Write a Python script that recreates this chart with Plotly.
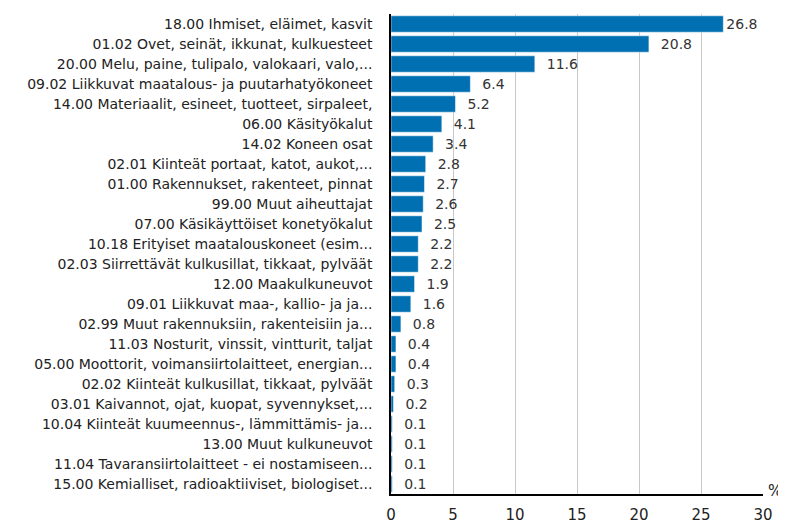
import plotly.graph_objects as go

categories = [
    "18.00 Ihmiset, eläimet, kasvit",
    "01.02 Ovet, seinät, ikkunat, kulkuesteet",
    "20.00 Melu, paine, tulipalo, valokaari, valo,...",
    "09.02 Liikkuvat maatalous- ja puutarhatyökoneet",
    "14.00 Materiaalit, esineet, tuotteet, sirpaleet,",
    "06.00 Käsityökalut",
    "14.02 Koneen osat",
    "02.01 Kiinteät portaat, katot, aukot,...",
    "01.00 Rakennukset, rakenteet, pinnat",
    "99.00 Muut aiheuttajat",
    "07.00 Käsikäyttöiset konetyökalut",
    "10.18 Erityiset maatalouskoneet (esim...",
    "02.03 Siirrettävät kulkusillat, tikkaat, pylväät",
    "12.00 Maakulkuneuvot",
    "09.01 Liikkuvat maa-, kallio- ja ja...",
    "02.99 Muut rakennuksiin, rakenteisiin ja...",
    "11.03 Nosturit, vinssit, vintturit, taljat",
    "05.00 Moottorit, voimansiirtolaitteet, energian...",
    "02.02 Kiinteät kulkusillat, tikkaat, pylväät",
    "03.01 Kaivannot, ojat, kuopat, syvennykset,...",
    "10.04 Kiinteät kuumeennus-, lämmittämis- ja...",
    "13.00 Muut kulkuneuvot",
    "11.04 Tavaransiirtolaitteet - ei nostamiseen...",
    "15.00 Kemialliset, radioaktiiviset, biologiset...",
]
values = [26.8, 20.8, 11.6, 6.4, 5.2, 4.1, 3.4, 2.8, 2.7, 2.6, 2.5, 2.2, 2.2,
          1.9, 1.6, 0.8, 0.4, 0.4, 0.3, 0.2, 0.1, 0.1, 0.1, 0.1]
x_ticks = [0, 5, 10, 15, 20, 25, 30]
unit_label = "%"

FONT = "DejaVu Sans, Verdana, sans-serif"
X_MAX = 30
NBSP = "\u00a0"

# value labels sit a little away from the bar end, unless they would run past the axis end
bar_text = [(NBSP * (0 if v > 25 else 2)) + f"{v:.1f}" for v in values]

fig = go.Figure(go.Bar(
    y=categories,
    x=values,
    orientation="h",
    marker=dict(color="#0070b2", line=dict(color="#ffffff", width=0.5)),
    text=bar_text,
    textposition="outside",
    textfont=dict(family=FONT, size=14, color="#333333"),
    cliponaxis=False,
))

# page body has an 8px default margin, so offsets are compensated here
fig.update_layout(
    width=786, height=523,
    margin=dict(l=383, r=31, t=6, b=37, pad=0),
    paper_bgcolor="white", plot_bgcolor="white",
    bargap=0.18,
    showlegend=False,
    font=dict(family=FONT, color="#333333"),
    xaxis=dict(
        range=[0, X_MAX], tickvals=x_ticks, ticktext=[str(t) for t in x_ticks],
        showgrid=True, gridcolor="#c8c8c8", gridwidth=1,
        zeroline=False, showline=True, linecolor="#000000", linewidth=1.5,
        ticks="", ticklabelstandoff=6,
        tickfont=dict(family=FONT, size=15, color="#222222"),
        fixedrange=True,
    ),
    yaxis=dict(
        autorange="reversed",
        showline=True, linecolor="#000000", linewidth=1.5,
        ticks="", ticklabelstandoff=14,
        tickfont=dict(family=FONT, size=14, color="#222222"),
        showgrid=False,
    ),
    annotations=[dict(
        text=unit_label, xref="paper", yref="paper", x=1.0, y=0.0,
        xanchor="left", yanchor="middle", xshift=3, yshift=3, showarrow=False,
        font=dict(family=FONT, size=15, color="#222222"),
    )],
)

fig.write_html("out.html")
